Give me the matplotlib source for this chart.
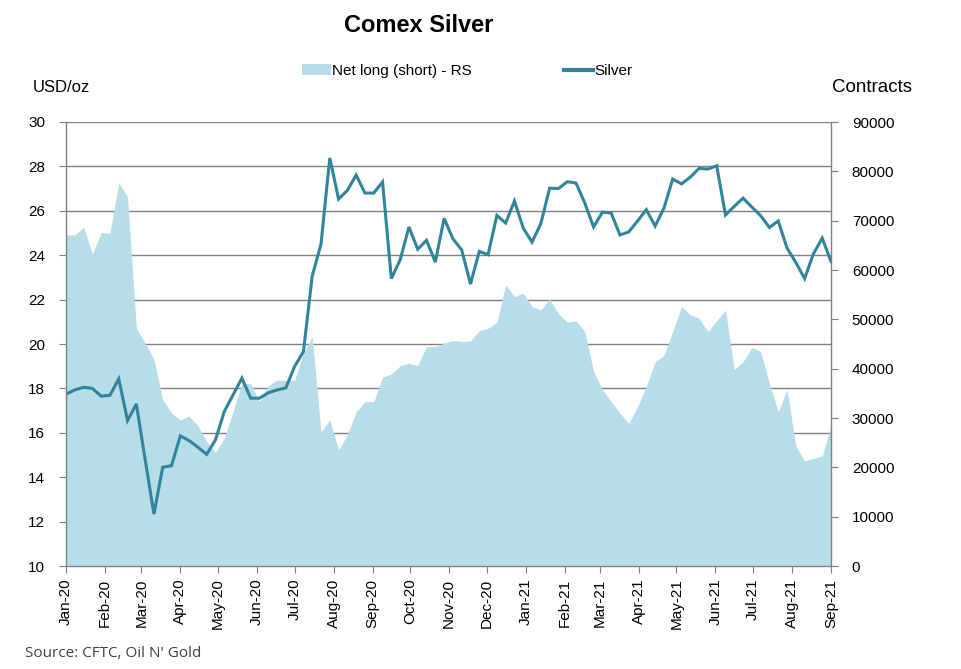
import matplotlib
matplotlib.use("Agg")
import matplotlib.pyplot as plt
import matplotlib.dates as mdates
from matplotlib.patches import Patch
from matplotlib.lines import Line2D
import pandas as pd

plt.rcParams['font.family'] = ['Liberation Sans', 'DejaVu Sans']

# ---- data ----
dates = pd.date_range("2020-01-07", periods=88, freq="7D")

silver = [17.74, 17.93, 18.05, 18.00, 17.65, 17.69, 18.43, 16.55, 17.30, 14.80,
          12.34, 14.45, 14.52, 15.86, 15.65, 15.35, 15.03, 15.68, 16.96, 17.71,
          18.46, 17.56, 17.56, 17.80, 17.93, 18.02, 18.99, 19.65, 23.06, 24.50,
          28.38, 26.53, 26.92, 27.61, 26.80, 26.80, 27.30, 22.95, 23.79, 25.27,
          24.27, 24.67, 23.69, 25.66, 24.74, 24.24, 22.70, 24.17, 24.02, 25.79,
          25.45, 26.44, 25.22, 24.59, 25.42, 27.02, 27.00, 27.31, 27.25, 26.35,
          25.27, 25.94, 25.90, 24.91, 25.05, 25.54, 26.05, 25.31, 26.12, 27.43,
          27.21, 27.52, 27.91, 27.88, 28.03, 25.81, 26.20, 26.57, 26.17, 25.78,
          25.25, 25.54, 24.32, 23.67, 22.95, 24.06, 24.77, 23.72]

net_long = [67100, 67100, 68700, 63300, 67600, 67500, 77700, 74800, 48200, 45200,
            41900, 33700, 31000, 29600, 30400, 28400, 25200, 23000, 25900, 31300,
            37000, 37000, 33300, 36500, 37700, 37600, 37700, 43100, 46500, 27200,
            29600, 23500, 26600, 31300, 33300, 33300, 38300, 38900, 40600, 41100,
            40600, 44500, 44500, 45200, 45700, 45500, 45600, 47700, 48200, 49400,
            57000, 54600, 55300, 52600, 51900, 54100, 51200, 49400, 49700, 47500,
            39400, 35800, 33300, 31000, 28900, 32300, 36400, 41400, 42700, 47500,
            52600, 50900, 50200, 47500, 49700, 51900, 39800, 41400, 44300, 43500,
            37000, 31300, 35800, 24300, 21300, 21800, 22300, 28400]

left_ticks = [10, 12, 14, 16, 18, 20, 22, 24, 26, 28, 30]
right_ticks = [0, 10000, 20000, 30000, 40000, 50000, 60000, 70000, 80000, 90000]
month_ticks = pd.date_range("2020-01-01", "2021-09-07", freq="MS") + pd.Timedelta(days=6)

area_color = "#B7DDE8"
line_color = "#31849B"
grid_color = "#808080"

fig = plt.figure(figsize=(9.62, 6.69), dpi=100)
pos = [66/962, 1-566/669, (831-66)/962, (566-122)/669]

ax = fig.add_axes(pos)
xmin, xmax = dates[0], dates[-1]
ax.set_xlim(xmin, xmax)
ax.set_ylim(10, 30)
ax.set_yticks(left_ticks)
ax.yaxis.grid(True, color=grid_color, linewidth=1.0)
ax.set_axisbelow(True)
ax.set_xticks(month_ticks)
ax.xaxis.set_major_formatter(mdates.DateFormatter('%b-%y'))
ax.tick_params(axis='x', rotation=90, labelsize=11, length=5, color=grid_color, pad=4)
ax.tick_params(axis='y', labelsize=11, length=5, color=grid_color, pad=10)
for s in ax.spines.values():
    s.set_visible(False)

ax2 = ax.twinx()
ax2.fill_between(dates, net_long, 0, color=area_color, linewidth=0)
ax2.set_ylim(0, 90000)
ax2.set_yticks(right_ticks)
ax2.tick_params(axis='y', labelsize=11, length=5, color=grid_color, pad=10)
ax2.set_xlim(xmin, xmax)
for s in ax2.spines.values():
    s.set_visible(False)

ax3 = fig.add_axes(pos)
ax3.patch.set_visible(False)
ax3.plot(dates, silver, color=line_color, linewidth=2.2, solid_joinstyle='miter')
ax3.set_xlim(xmin, xmax)
ax3.set_ylim(10, 30)
ax3.set_xticks([])
ax3.set_yticks([])
ax3.spines['top'].set_visible(False)
for k in ['left', 'right', 'bottom']:
    ax3.spines[k].set_color(grid_color)
    ax3.spines[k].set_linewidth(1.0)

fig.text(419/962, 1-25/669, "Comex Silver", ha='center', va='center',
         fontsize=17, fontweight='bold')
fig.text(33/962, 1-88/669, "USD/oz", ha='left', va='center', fontsize=12)
fig.text(832/962, 1-87/669, "Contracts", ha='left', va='center', fontsize=13.5)
fig.text(25/962, 1-657/669, "Source: CFTC, Oil N' Gold", ha='left', va='baseline',
         fontsize=11, color='#404040', family=['Open Sans', 'DejaVu Sans'])

handles = [Patch(facecolor=area_color, edgecolor='none'),
           Line2D([0], [0], color=line_color, linewidth=3)]
fig.legend(handles, ["Net long (short) - RS", "Silver"], loc='center',
           bbox_to_anchor=(467/962, 1-71/669), ncol=2, frameon=False,
           fontsize=11, columnspacing=6.0, handlelength=1.9, handletextpad=0.1)

fig.savefig("out.png", dpi=100)
